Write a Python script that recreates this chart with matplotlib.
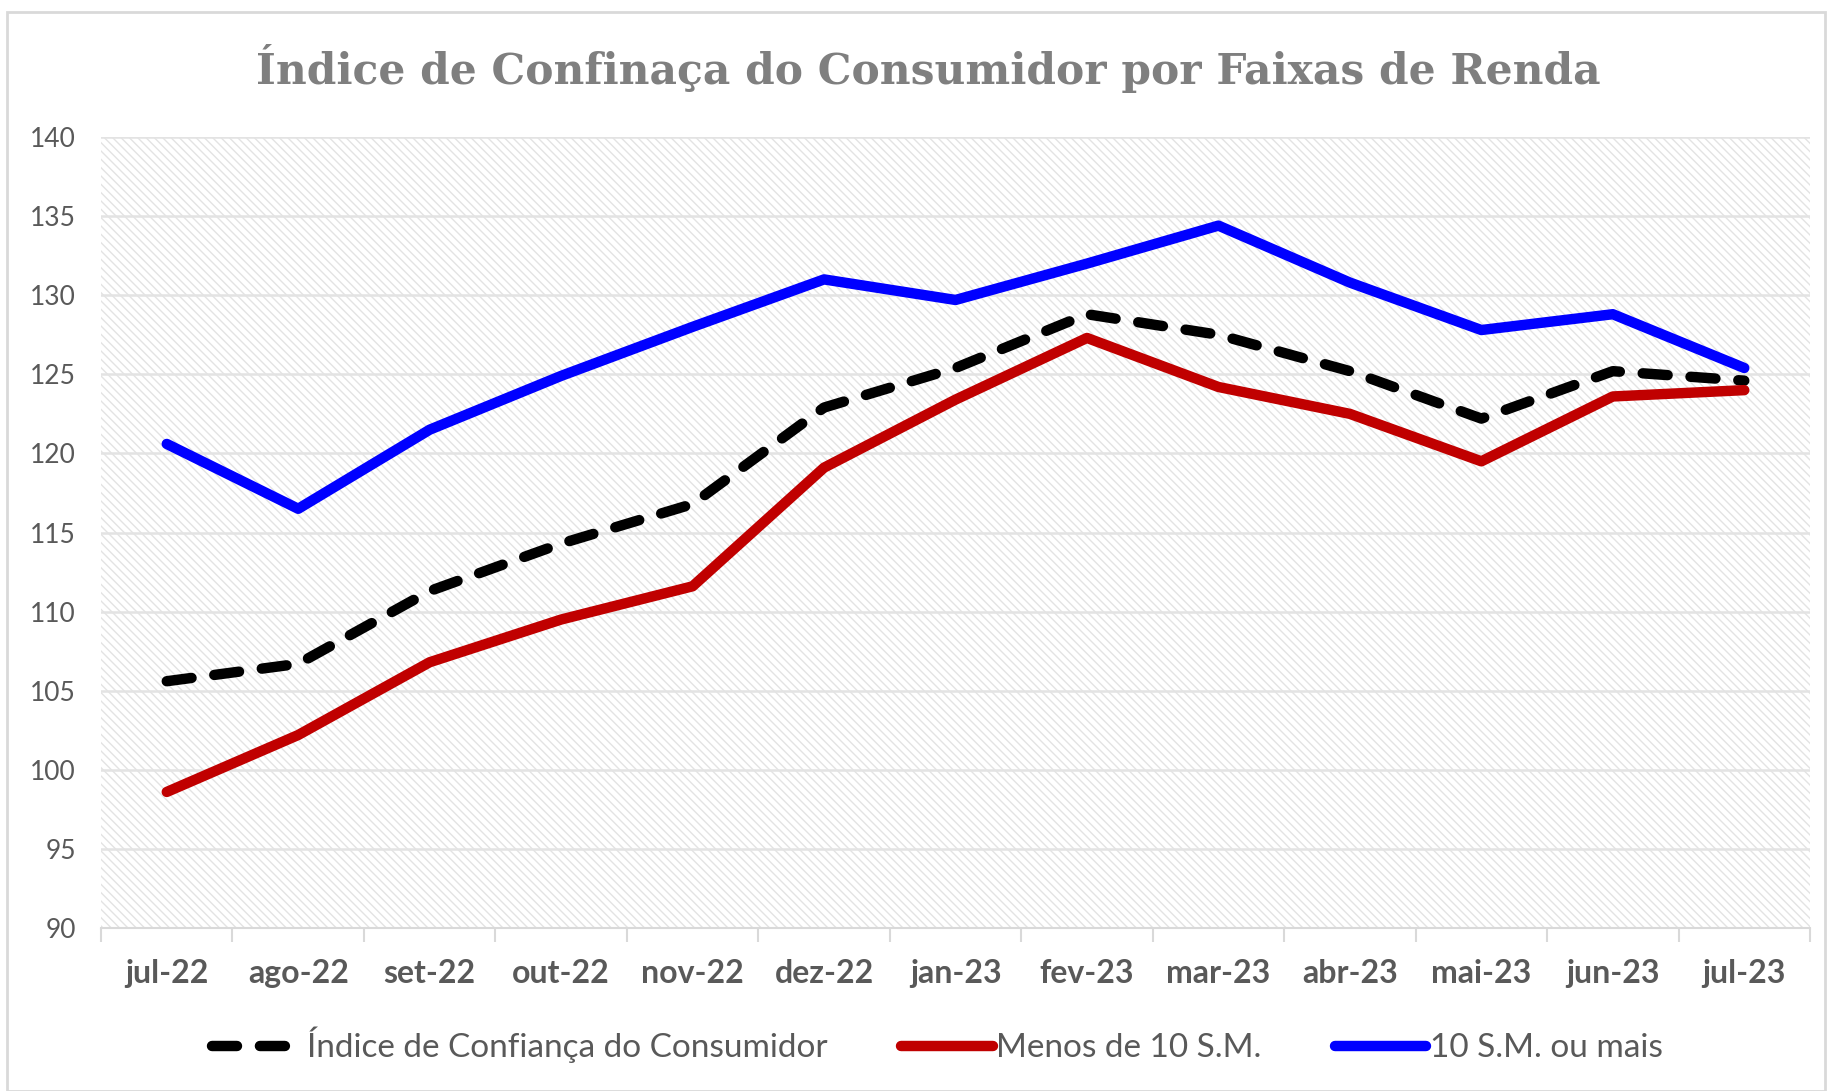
import numpy as np
import matplotlib.pyplot as plt
from matplotlib.patches import Rectangle

meses = ["jul-22", "ago-22", "set-22", "out-22", "nov-22", "dez-22", "jan-23",
         "fev-23", "mar-23", "abr-23", "mai-23", "jun-23", "jul-23"]
icc = [105.6, 106.7, 111.3, 114.3, 116.8, 122.9, 125.4, 128.8, 127.5, 125.2, 122.2, 125.2, 124.6]
menos_10sm = [98.6, 102.2, 106.8, 109.5, 111.6, 119.1, 123.4, 127.3, 124.2, 122.5, 119.5, 123.6, 124.0]
mais_10sm = [120.6, 116.5, 121.5, 124.9, 128.0, 131.0, 129.7, 132.0, 134.4, 130.8, 127.8, 128.8, 125.4]

plt.rcParams['font.family'] = ['Lato', 'DejaVu Sans']
plt.rcParams['hatch.color'] = '#e3e3e3'
plt.rcParams['hatch.linewidth'] = 1.0

fig = plt.figure(figsize=(18.27, 10.91), dpi=100)
ax = fig.add_axes([0.0553, 0.1494, 0.9354, 0.725])

# hatched plot area
ax.patch.set_facecolor('white')
ax.patch.set_hatch('\\\\\\\\')
ax.patch.set_edgecolor('#e3e3e3')
ax.patch.set_linewidth(0)

x = np.arange(len(meses))
ax.plot(x, icc, color='black', lw=7.5, dashes=(2.4, 2.2), dash_capstyle='round',
        solid_capstyle='round', label="Índice de Confiança do Consumidor", zorder=3)
ax.plot(x, menos_10sm, color='#c00000', lw=7.5, solid_capstyle='round',
        solid_joinstyle='round', label="Menos de 10 S.M.", zorder=3)
ax.plot(x, mais_10sm, color='#0000ff', lw=7.5, solid_capstyle='round',
        solid_joinstyle='round', label="10 S.M. ou mais", zorder=3)

ax.set_xlim(-0.5, len(meses) - 0.5)
ax.set_ylim(90, 140)
ax.set_yticks(range(90, 141, 5))
ax.set_xticks(x)
ax.set_xticklabels(meses, fontsize=23, fontweight='bold', color='#595959')
ax.set_xticks(np.arange(-0.5, len(meses)), minor=True)
ax.tick_params(axis='x', which='major', length=0, pad=22)
ax.tick_params(axis='x', which='minor', length=10, width=1.5, color='#d9d9d9')
ax.tick_params(axis='y', length=0, labelsize=19, labelcolor='#595959', pad=18)

ax.grid(axis='y', color='#e3e3e3', lw=1.8, zorder=1)
ax.set_axisbelow(True)
for s in ['top', 'right', 'left']:
    ax.spines[s].set_visible(False)
ax.spines['bottom'].set_color('#d9d9d9')
ax.spines['bottom'].set_linewidth(1.5)

fig.text(0.508, 0.937, "Índice de Confinaça do Consumidor por Faixas de Renda",
         ha='center', va='center', fontsize=30.5, fontweight='bold', color='#7f7f7f',
         family='DejaVu Serif')

fig.legend(loc='center', bbox_to_anchor=(0.513, 0.042), ncol=3, frameon=False,
           fontsize=24, labelcolor='#595959', handlelength=2.75, handletextpad=0.1,
           columnspacing=2.2)

fig.patches.append(Rectangle((0.004, 0.0), 0.995, 0.989, transform=fig.transFigure,
                             fill=False, edgecolor='#d9d9d9', lw=2))

plt.savefig('out.png', dpi=100)
